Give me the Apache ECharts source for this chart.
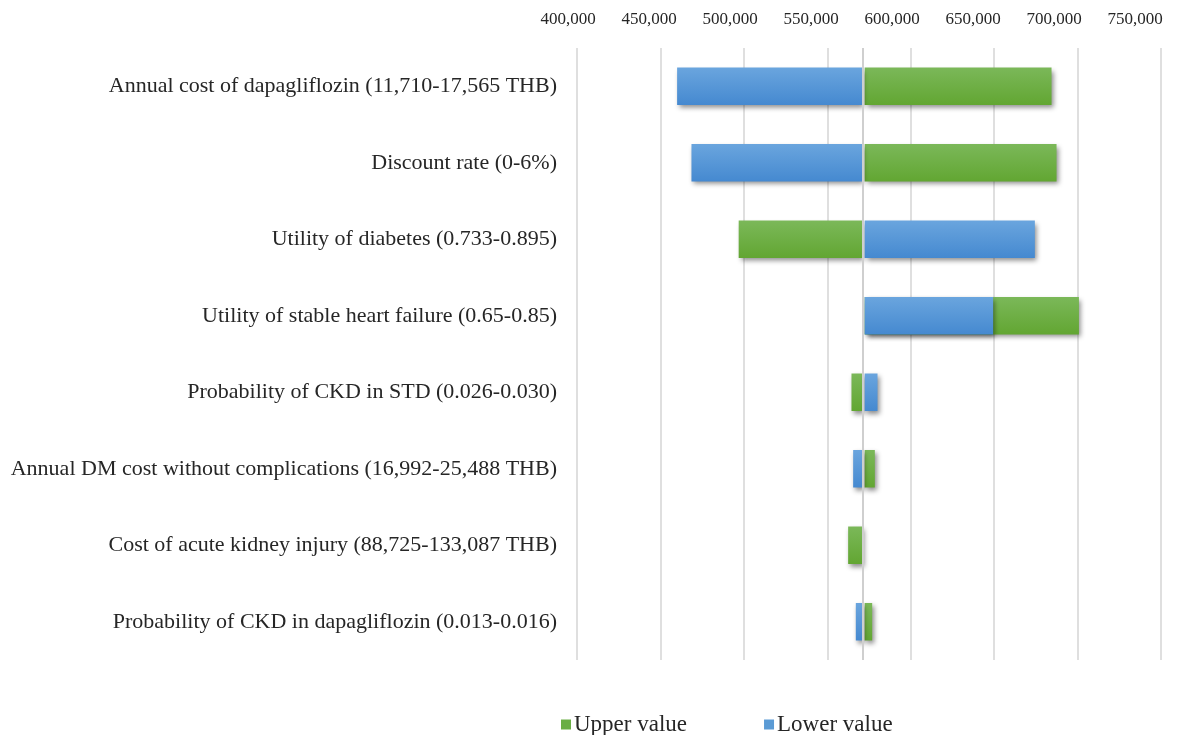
<!DOCTYPE html>
<html>
<head>
<meta charset="utf-8">
<script src="https://cdn.jsdelivr.net/npm/echarts@6/dist/echarts.min.js"></script>
<style>
html,body{margin:0;padding:0;background:#fff;}
#chart{width:1197px;height:735px;}
</style>
</head>
<body>
<div id="chart"></div>
<script>
const categories = [
  "Annual cost of dapagliflozin (11,710-17,565 THB)",
  "Discount rate (0-6%)",
  "Utility of diabetes (0.733-0.895)",
  "Utility of stable heart failure (0.65-0.85)",
  "Probability of CKD in STD (0.026-0.030)",
  "Annual DM cost without complications (16,992-25,488 THB)",
  "Cost of acute kidney injury (88,725-133,087 THB)",
  "Probability of CKD in dapagliflozin (0.013-0.016)"
];
const baseValue = 571500;
const upperValues = [684400, 687400, 496900, 700800, 564500, 578500, 562500, 576900];
const lowerValues = [460000, 468600, 674400, 649400, 580100, 565500, 571500, 567100];
const xTicks = [400000, 450000, 500000, 550000, 600000, 650000, 700000, 750000];

const chart = echarts.init(document.getElementById('chart'));
const SERIF = '"Liberation Serif", "Times New Roman", serif';

function makeRender(c1, c2) {
  return function (params, api) {
    const cat = api.value(1);
    const v = api.value(0);
    const p0 = api.coord([baseValue, cat]);
    const p1 = api.coord([v, cat]);
    const h = api.size([0, 1])[1] * 0.49;
    let x0 = Math.min(p0[0], p1[0]);
    let x1 = Math.max(p0[0], p1[0]);
    if (p1[0] < p0[0]) { x1 -= 1; } else { x0 += 1.5; }
    const w = x1 - x0;
    if (w <= 0.2) return null;
    return {
      type: 'rect',
      shape: { x: x0, y: p0[1] - h / 2, width: w, height: h },
      style: {
        fill: new echarts.graphic.LinearGradient(0, 0, 0, 1, [
          { offset: 0, color: c1 }, { offset: 1, color: c2 }
        ]),
        shadowBlur: 5,
        shadowOffsetX: 2,
        shadowOffsetY: 3,
        shadowColor: 'rgba(0,0,0,0.45)'
      }
    };
  };
}

const option = {
  animation: false,
  backgroundColor: '#fff',
  grid: [
    { left: 577, right: 36, top: 48, bottom: 75, containLabel: false },
    // label grid: the reference's tick labels sit on a slightly narrower span
    { left: 568, right: 62, top: 48, bottom: 75, containLabel: false }
  ],
  xAxis: [
    {
      type: 'value',
      gridIndex: 0,
      position: 'top',
      min: xTicks[0],
      max: xTicks[xTicks.length - 1],
      interval: 50000,
      axisLine: { show: false },
      axisTick: { show: false },
      axisLabel: { show: false },
      splitLine: { show: true, lineStyle: { color: '#d4d4d4', width: 1.5 } }
    },
    {
      type: 'value',
      gridIndex: 1,
      position: 'top',
      min: xTicks[0],
      max: xTicks[xTicks.length - 1],
      interval: 50000,
      axisLine: { show: false },
      axisTick: { show: false },
      splitLine: { show: false },
      axisLabel: {
        margin: 20,
        fontFamily: SERIF,
        fontSize: 17,
        color: '#262626',
        showMinLabel: true,
        showMaxLabel: true,
        formatter: v => v.toLocaleString('en-US')
      }
    }
  ],
  yAxis: [
    {
      type: 'category',
      gridIndex: 0,
      data: categories,
      inverse: true,
      axisLine: { show: false },
      axisTick: { show: false },
      axisLabel: {
        margin: 20,
        fontFamily: SERIF,
        fontSize: 22,
        color: '#262626'
      },
      splitLine: { show: false }
    },
    {
      type: 'category',
      gridIndex: 1,
      data: categories,
      inverse: true,
      show: false
    }
  ],
  legend: {
    data: ['Upper value', 'Lower value'],
    top: 708,
    left: 556,
    icon: 'rect',
    itemWidth: 10,
    itemHeight: 10,
    itemGap: 77,
    textStyle: { fontFamily: SERIF, fontSize: 23, color: '#262626', padding: [0, 0, 0, -2] }
  },
  series: [
    {
      name: 'baseline',
      type: 'custom',
      xAxisIndex: 0,
      yAxisIndex: 0,
      z: 1,
      data: [],
      renderItem: () => null,
      markLine: {
        silent: true,
        symbol: 'none',
        label: { show: false },
        lineStyle: { color: '#cfcfcf', type: 'solid', width: 2 },
        data: [{ xAxis: baseValue }]
      }
    },
    {
      name: 'Upper value',
      type: 'custom',
      xAxisIndex: 0,
      yAxisIndex: 0,
      z: 3,
      itemStyle: { color: '#6aae45' },
      encode: { x: 0, y: 1 },
      data: upperValues.map((v, i) => [v, i]),
      renderItem: makeRender('#7bb859', '#62a632')
    },
    {
      name: 'Lower value',
      type: 'custom',
      xAxisIndex: 0,
      yAxisIndex: 0,
      z: 4,
      itemStyle: { color: '#5b9bd5' },
      encode: { x: 0, y: 1 },
      data: lowerValues.map((v, i) => [v, i]),
      renderItem: makeRender('#6aa5de', '#4589d0')
    }
  ]
};
chart.setOption(option);
</script>
</body>
</html>
